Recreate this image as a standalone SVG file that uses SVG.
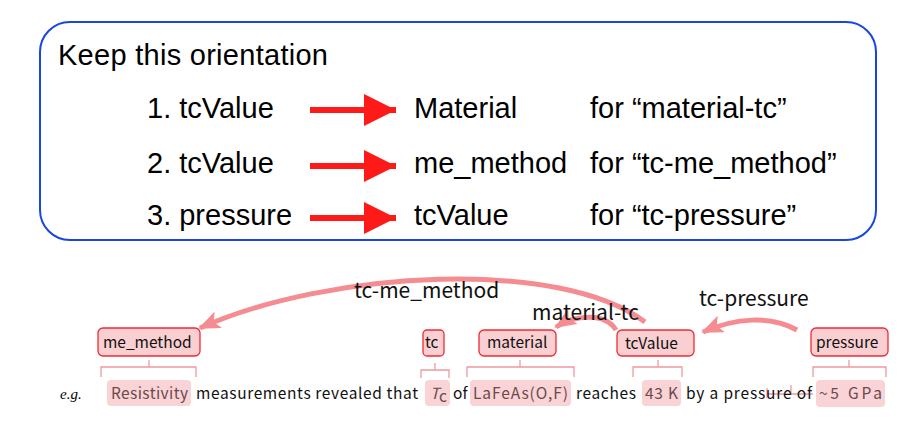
<svg xmlns="http://www.w3.org/2000/svg" width="917" height="426" viewBox="0 0 917 426">
<defs>
<style>
.t{font-family:"Liberation Sans",Arial,sans-serif;font-size:29px;fill:#000}
.s{font-family:"Noto Sans CJK JP","Noto Sans",sans-serif;font-size:15.5px;fill:#111}
.d{fill:#6b4a4c}
.l{font-family:"Noto Sans CJK JP","Noto Sans",sans-serif;font-size:21px;fill:#111}
.box{fill:#f9cfd2;stroke:#ee2b36;stroke-width:1.3}
.hl{fill:#f9d3d5}
.br{fill:none;stroke:#f09a9e;stroke-width:1.3}
.arc{fill:none;stroke:#f48c92;stroke-width:5}
.arrow{stroke:#ff1a1a;stroke-width:6}
</style>
<marker id="big" markerUnits="userSpaceOnUse" markerWidth="32" markerHeight="32" refX="32" refY="16" orient="auto"><path d="M0,0L32,16L0,32Z" fill="#ff1a1a"/></marker>
<marker id="pk" markerUnits="userSpaceOnUse" markerWidth="22" markerHeight="18" refX="20" refY="9" orient="auto"><path d="M0,0L22,9L0,18L5,9Z" fill="#f48c92"/></marker>
</defs>
<rect x="40" y="22" width="836" height="218" rx="30" fill="#fff" stroke="#1846e0" stroke-width="2"/>
<text class="t" x="58" y="65" textLength="270">Keep this orientation</text>
<g id="row1"><text class="t" x="147" y="118">1. tcValue</text><line class="arrow" x1="310" y1="110" x2="396" y2="110" marker-end="url(#big)"/><text class="t" x="414" y="118">Material</text><text class="t" x="590" y="118">for “material-tc”</text></g>
<g id="row2"><text class="t" x="147" y="173">2. tcValue</text><line class="arrow" x1="310" y1="166" x2="396" y2="166" marker-end="url(#big)"/><text class="t" x="414" y="173">me_method</text><text class="t" x="590" y="173">for “tc-me_method”</text></g>
<g id="row3"><text class="t" x="147" y="225">3. pressure</text><line class="arrow" x1="310" y1="218" x2="396" y2="218" marker-end="url(#big)"/><text class="t" x="414" y="225">tcValue</text><text class="t" x="590" y="225">for “tc-pressure”</text></g>

<g id="connectors">
<path class="arc" d="M645,322 C560,258 330,270 200,328" marker-end="url(#pk)"/>
<path class="arc" d="M616,330 C605,312 575,315 556,327" marker-end="url(#pk)"/>
<path class="arc" d="M797,330 C770,315 735,318 703,332" marker-end="url(#pk)"/>
</g>
<text class="l" x="354" y="298">tc-me_method</text>
<text class="l" x="532" y="320">material-tc</text>
<text class="l" x="699" y="306">tc-pressure</text>

<g id="me_method"><rect class="box" x="98" y="328" width="102" height="28" rx="5"/><text class="s" x="103" y="348">me_method</text></g>
<g id="tc"><rect class="box" x="423" y="330" width="21" height="26" rx="4"/><text class="s" x="425" y="348">tc</text></g>
<g id="material"><rect class="box" x="479" y="330" width="77" height="26" rx="5"/><text class="s" x="487" y="348">material</text></g>
<g id="tcValue"><rect class="box" x="617" y="330" width="77" height="26" rx="5"/><text class="s" x="625" y="349">tcValue</text></g>
<g id="pressure"><rect class="box" x="811" y="328" width="77" height="28" rx="5"/><text class="s" x="816" y="348">pressure</text></g>

<g id="brackets">
<path class="br" d="M101,377V367H196V377M149,367V360"/>
<path class="br" d="M421,378V370H449V378M435,370V363"/>
<path class="br" d="M467,377V367H574V377M520,367V360"/>
<path class="br" d="M633,377V367H682V377M658,367V360"/>
<path class="br" d="M813,377V367H886V377M849,367V360"/>
<path class="br" d="M767,398V388M767,394H813M791,385V395"/>
</g>

<rect class="hl" x="107" y="380" width="84" height="26" rx="4"/>
<rect class="hl" x="425" y="380" width="25" height="26" rx="4"/>
<rect class="hl" x="470" y="380" width="101" height="26" rx="4"/>
<rect class="hl" x="642" y="380" width="39" height="26" rx="4"/>
<rect class="hl" x="816" y="380" width="69" height="27" rx="4"/>
<text x="60" y="399" font-family="Liberation Serif,serif" font-style="italic" font-size="15">e.g.</text>
<g class="s">
<text class="s d" x="111" y="399" textLength="77">Resistivity</text>
<text class="s" x="196" y="399" textLength="222">measurements revealed that</text>
<text class="s d" x="430" y="399" font-style="italic">T</text><text class="s d" x="439" y="402" font-size="10">c</text>
<text class="s" x="453" y="399">of</text>
<text class="s d" x="473" y="399" textLength="95">LaFeAs(O,F)</text>
<text class="s" x="576" y="399" textLength="60">reaches</text>
<text class="s d" x="645" y="399" textLength="33">43 K</text>
<text class="s" x="686" y="399" textLength="126">by a pressure of</text>
<text class="s d" x="819" y="399" textLength="63">~5 GPa</text>
</g>
</svg>
